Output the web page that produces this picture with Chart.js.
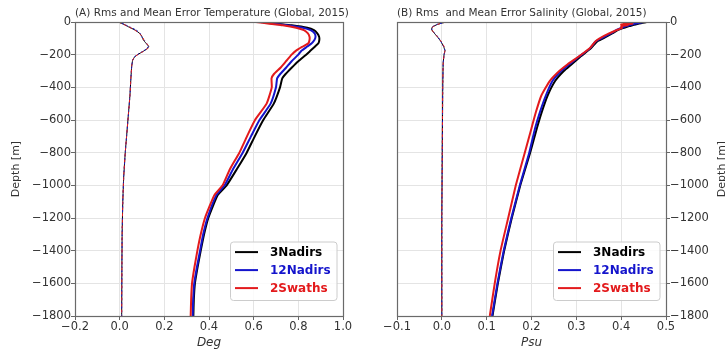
<!DOCTYPE html>
<html>
<head>
<meta charset="utf-8">
<script src="https://cdn.jsdelivr.net/npm/chart.js@4/dist/chart.umd.min.js"></script>
<style>
  html, body { margin:0; padding:0; background:#fff; }
  #wrap { position:relative; width:725px; height:353px; overflow:hidden; }
  #cTemp { position:absolute; left:0; top:0; }
  #cSal { position:absolute; left:362px; top:0; }
</style>
</head>
<body>
<div id="wrap">
  <canvas id="cTemp" width="362" height="353"></canvas>
  <canvas id="cSal" width="363" height="353"></canvas>
</div>
<script>
// Temperature RMS (panel A)
const TEMP_DEPTH = [0,-10,-20,-35,-50,-70,-90,-110,-130,-150,-175,-200,-240,-280,-320,-345,-400,-500,-600,-700,-800,-900,-1000,-1060,-1200,-1300,-1400,-1500,-1600,-1700,-1800];
const TEMP_RMS_3N  = [0.64,0.70,0.77,0.84,0.87,0.885,0.893,0.894,0.89,0.875,0.855,0.835,0.80,0.77,0.742,0.728,0.718,0.69,0.643,0.605,0.569,0.525,0.479,0.439,0.397,0.378,0.363,0.349,0.337,0.332,0.330];
const TEMP_RMS_12N = [0.63,0.69,0.75,0.82,0.855,0.873,0.877,0.872,0.86,0.84,0.815,0.80,0.77,0.745,0.718,0.705,0.70,0.676,0.626,0.588,0.551,0.508,0.470,0.433,0.393,0.374,0.360,0.346,0.334,0.329,0.327];
const TEMP_RMS_2S  = [0.61,0.67,0.73,0.79,0.825,0.843,0.85,0.85,0.845,0.82,0.79,0.77,0.745,0.72,0.69,0.68,0.681,0.658,0.606,0.570,0.536,0.494,0.461,0.424,0.382,0.363,0.348,0.335,0.324,0.320,0.318];

// Temperature mean error (panel A)
const TEMP_ME_DEPTH = [0,-15,-30,-50,-70,-90,-110,-130,-150,-165,-180,-200,-215,-235,-270,-350,-450,-550,-700,-800,-950,-1100,-1300,-1500,-1800];
const TEMP_ME_3N  = [-0.006,0.02,0.04,0.07,0.09,0.10,0.106,0.118,0.13,0.122,0.105,0.08,0.066,0.058,0.054,0.05,0.046,0.04,0.031,0.025,0.018,0.014,0.011,0.010,0.009];
const TEMP_ME_12N = [-0.006,0.022,0.045,0.075,0.092,0.098,0.11,0.12,0.128,0.12,0.103,0.079,0.065,0.058,0.054,0.05,0.046,0.04,0.031,0.025,0.018,0.014,0.011,0.010,0.009];
const TEMP_ME_2S  = [-0.006,0.018,0.042,0.068,0.088,0.102,0.108,0.12,0.132,0.124,0.106,0.081,0.066,0.058,0.054,0.05,0.046,0.04,0.031,0.025,0.018,0.014,0.011,0.010,0.009];

// Salinity RMS (panel B)
const SAL_DEPTH = [0,-5,-10,-15,-20,-25,-35,-50,-70,-100,-120,-160,-210,-260,-300,-360,-450,-550,-650,-800,-1000,-1200,-1400,-1600,-1800];
const SAL_RMS_3N  = [0.457,0.448,0.44,0.432,0.425,0.418,0.407,0.392,0.38,0.36,0.346,0.333,0.31,0.289,0.272,0.253,0.236,0.223,0.212,0.197,0.175,0.156,0.139,0.125,0.113];
const SAL_RMS_12N = [0.45,0.441,0.432,0.425,0.418,0.412,0.402,0.389,0.377,0.356,0.343,0.331,0.307,0.284,0.266,0.247,0.232,0.219,0.208,0.195,0.174,0.155,0.138,0.124,0.112];
const SAL_RMS_2S  = [0.43,0.405,0.425,0.40,0.415,0.40,0.402,0.39,0.373,0.352,0.342,0.33,0.306,0.28,0.262,0.241,0.222,0.21,0.2,0.185,0.165,0.148,0.131,0.118,0.107];

// Salinity mean error (panel B)
const SAL_ME_DEPTH = [0,-15,-30,-45,-65,-90,-120,-150,-175,-200,-250,-400,-800,-1200,-1800];
const SAL_ME_3N  = [0.009,-0.01,-0.021,-0.023,-0.018,-0.01,-0.002,0.004,0.007,0.005,0.003,0.002,0.001,0.0,0.0];
const SAL_ME_12N = [0.009,-0.011,-0.021,-0.022,-0.017,-0.009,-0.002,0.004,0.007,0.005,0.003,0.002,0.001,0.0,0.0];
const SAL_ME_2S  = [0.009,-0.01,-0.02,-0.023,-0.018,-0.01,-0.001,0.005,0.007,0.005,0.003,0.002,0.001,0.0,0.0];

const SERIES = ['3Nadirs','12Nadirs','2Swaths'];
const COLORS = ['#000000','#1414cc','#e31a1c'];
const DEPTH_TICKS = [0,-200,-400,-600,-800,-1000,-1200,-1400,-1600,-1800];

Chart.defaults.font.family = 'DejaVu Sans';
Chart.defaults.color = '#333';

function pts(xs, ys){ return xs.map((v,i) => ({x:v, y:ys[i]})); }
function fmtNum(v, d){
  let s = (Math.abs(v) < 1e-9 ? 0 : v).toFixed(d);
  return s.replace('-', '\u2212');
}

function rmsSet(i, xs, ys){
  return {label:SERIES[i], data:pts(xs, ys), borderColor:COLORS[i], borderWidth:2,
    pointRadius:0, showLine:true, fill:false, tension:0.15, order:3-i, isRms:true};
}
function meSet(i, xs, ys){
  return {label:SERIES[i]+' ME', data:pts(xs, ys), borderColor:COLORS[i], borderWidth:1,
    borderDash: i === 0 ? [] : (i === 1 ? [2,2] : [3,3]),
    pointRadius:0, showLine:true, fill:false, tension:0.1, order:6-i};
}

// frame + title + legend inside plot
const panelDeco = {
  id:'panelDeco',
  afterDraw(chart, args, o){
    const ctx = chart.ctx, a = chart.chartArea;
    ctx.save();
    ctx.strokeStyle = '#6a6a6a'; ctx.lineWidth = 1.2;
    ctx.strokeRect(Math.round(a.left)+0.5, Math.round(a.top)+0.5, Math.round(a.right-a.left), Math.round(a.bottom-a.top));
    // title
    ctx.fillStyle = '#333';
    ctx.font = '10.5px "DejaVu Sans"';
    ctx.textAlign = 'left'; ctx.textBaseline = 'middle';
    ctx.fillText(o.title, a.left, 13);
    // right-side depth label
    if (o.rightLabel) {
      ctx.save();
      ctx.translate(o.rightLabelX, (a.top + a.bottom) / 2);
      ctx.rotate(-Math.PI/2);
      ctx.font = '11px "DejaVu Sans"';
      ctx.textAlign = 'center';
      ctx.fillText(o.rightLabel, 0, 0);
      ctx.restore();
    }
    // legend
    const w = 106.5, h = 58.5;
    const bx = a.right - 6.5 - w, by = a.bottom - 16 - h;
    ctx.beginPath();
    if (ctx.roundRect) ctx.roundRect(bx+0.5, by+0.5, w, h, 3); else ctx.rect(bx+0.5, by+0.5, w, h);
    ctx.fillStyle = 'rgba(255,255,255,0.85)'; ctx.fill();
    ctx.strokeStyle = '#cccccc'; ctx.lineWidth = 1; ctx.stroke();
    const rms = chart.data.datasets.filter(d => d.isRms);
    ctx.font = 'bold 12px "DejaVu Sans"';
    rms.forEach((d, i) => {
      const yy = by + 10.6 + i * 18;
      ctx.strokeStyle = d.borderColor; ctx.lineWidth = 2;
      ctx.beginPath(); ctx.moveTo(bx + 5, yy); ctx.lineTo(bx + 28, yy); ctx.stroke();
      ctx.fillStyle = d.borderColor;
      ctx.fillText(d.label, bx + 40, yy + 0.5);
    });
    ctx.restore();
  }
};

function makeOpts(cfg){
  return {
    responsive:false, animation:false, devicePixelRatio:1,
    layout:{padding:cfg.padding},
    plugins:{legend:{display:false}, tooltip:{enabled:false}, panelDeco:cfg.deco},
    scales:{
      x:{type:'linear', min:cfg.xmin, max:cfg.xmax,
        afterFit: s => { s.height = 37; },
        grid:{color:'#e4e4e4', lineWidth:1, tickLength:4, tickColor:'#666', drawTicks:true},
        border:{display:false},
        ticks:{stepSize:cfg.xstep, padding:0, autoSkip:false, maxRotation:0, font:{size:11.5}, color:'#333',
          callback: v => fmtNum(v, 1)},
        title:{display:true, text:cfg.xtitle, font:{size:12, style:'italic'}, color:'#333', padding:{top:0, bottom:2.5}}
      },
      y:{type:'linear', position:cfg.ypos, min:-1800, max:0,
        afterFit: s => { s.width = cfg.ywidth; },
        afterBuildTicks: s => { s.ticks = DEPTH_TICKS.map(v => ({value:v})); },
        grid:{color:'#e4e4e4', lineWidth:1, tickLength:4, tickColor:'#666', drawTicks:true},
        border:{display:false},
        ticks:{padding:0, autoSkip:false, font:{size:11.5}, color:'#333', callback: v => fmtNum(v, 0)},
        title:{display:cfg.ypos === 'left', text:'Depth [m]', font:{size:11}, color:'#333', padding:{top:9.4, bottom:0}}
      }
    }
  };
}

new Chart(document.getElementById('cTemp'), {
  type:'scatter',
  data:{datasets:[
    rmsSet(0, TEMP_RMS_3N, TEMP_DEPTH),
    rmsSet(1, TEMP_RMS_12N, TEMP_DEPTH),
    rmsSet(2, TEMP_RMS_2S, TEMP_DEPTH),
    meSet(0, TEMP_ME_3N, TEMP_ME_DEPTH),
    meSet(1, TEMP_ME_12N, TEMP_ME_DEPTH),
    meSet(2, TEMP_ME_2S, TEMP_ME_DEPTH)
  ]},
  options:makeOpts({padding:{top:22, right:19, left:0, bottom:0}, xmin:-0.2, xmax:1.0, xstep:0.2,
    xtitle:'Deg', ypos:'left', ywidth:75,
    deco:{title:'(A) Rms and Mean Error Temperature (Global, 2015)'}}),
  plugins:[panelDeco]
});

new Chart(document.getElementById('cSal'), {
  type:'scatter',
  data:{datasets:[
    rmsSet(0, SAL_RMS_3N, SAL_DEPTH),
    rmsSet(1, SAL_RMS_12N, SAL_DEPTH),
    rmsSet(2, SAL_RMS_2S, SAL_DEPTH),
    meSet(0, SAL_ME_3N, SAL_ME_DEPTH),
    meSet(1, SAL_ME_12N, SAL_ME_DEPTH),
    meSet(2, SAL_ME_2S, SAL_ME_DEPTH)
  ]},
  options:makeOpts({padding:{top:22, right:0, left:35, bottom:0}, xmin:-0.1, xmax:0.5, xstep:0.1,
    xtitle:'Psu', ypos:'right', ywidth:59,
    deco:{title:'(B) Rms  and Mean Error Salinity (Global, 2015)', rightLabel:'Depth [m]', rightLabelX:360}}),
  plugins:[panelDeco]
});
</script>
</body>
</html>
